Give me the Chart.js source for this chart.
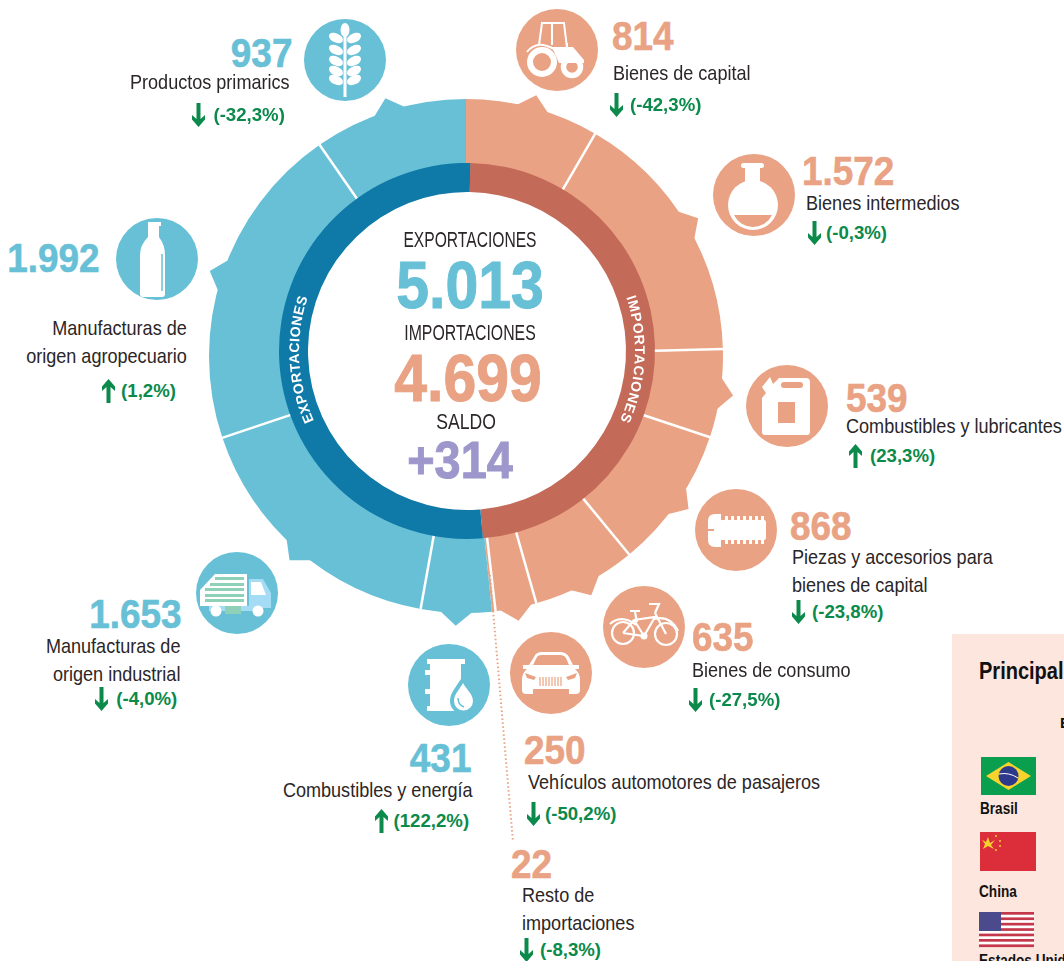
<!DOCTYPE html>
<html lang="es">
<head>
<meta charset="utf-8">
<title>Intercambio comercial</title>
<script src="https://cdn.jsdelivr.net/npm/chart.js@4"></script>
<style>
html, body { margin: 0; padding: 0; width: 1064px; height: 961px; overflow: hidden; background: #fff; }
body { position: relative; font-family: "Liberation Sans", sans-serif; color: #2b2627; }
canvas { position: absolute; }
.t { position: absolute; white-space: pre; line-height: 1; transform-origin: left center; }
.num { font-weight: 700; font-size: 41px; transform: scaleX(.9); -webkit-text-stroke: .6px currentColor; }
.eti { font-size: 21px; line-height: 28px; transform: scaleX(.86); }
.pct { font-weight: 700; font-size: 19px; color: #0b8a4b; transform: scaleX(.98); }
.der { text-align: right; transform-origin: right center; }
.centro { width: 400px; text-align: center; transform-origin: center center; }
svg { position: absolute; overflow: visible; }
#panel { position: absolute; left: 952px; top: 634px; width: 112px; height: 327px; background: #fce6dd; overflow: hidden; }
.pais { font-weight: 700; font-size: 16px; color: #111; transform: scaleX(.85); }
</style>
</head>
<body>
<canvas id="anilloExterior" width="540" height="540" style="left:196px;top:86px"></canvas>
<canvas id="anilloInterior" width="400" height="400" style="left:267px;top:151px"></canvas>
<div id="panel"></div>
<script>
// datos, en sentido horario desde arriba
const categorias = [
    "Bienes de capital", "Bienes intermedios", "Combustibles y lubricantes",
    "Piezas y accesorios para\nbienes de capital", "Bienes de consumo",
    "Vehículos automotores de pasajeros", "Resto de\nimportaciones",
    "Combustibles y energía", "Manufacturas de\norigen industrial",
    "Manufacturas de\norigen agropecuario", "Productos primarics"
];
const valores = [814, 1572, 539, 868, 635, 250, 22, 431, 1653, 1992, 937];
const variaciones = [-42.3, -0.3, 23.3, -23.8, -27.5, -50.2, -8.3, 122.2, -4.0, 1.2, -32.3];
const totales = ["Importaciones", "Exportaciones"];
const valoresTotales = [4699, 5013];
const saldo = 314;
const paises = ["Brasil", "China", "Estados Unidos"];

const cantidadImportaciones = 7;
const colorImp = "#e9a283", colorExp = "#67c0d6";
const colorImpOsc = "#c46a58", colorExpOsc = "#0f79a8";

// donde va cada texto: [numero x, y, etiqueta x, y, flecha x, y, porcentaje x]
// las de exportaciones van alineadas a la derecha
const lugares = [
    [612, 36, 613, 73, 610, 105, 630],
    [802, 171, 806, 203, 808, 233, 826],
    [846, 398, 846, 426, 849, 456, 870],
    [790, 526, 792, 557, 792, 612, 812],
    [692, 637, 692, 670, 689, 700, 709],
    [524, 750, 528, 782, 527, 814, 545],
    [511, 864, 522, 895, 520, 950, 540],
    [471, 758, 473, 790, 375, 821, 469],
    [182, 614, 180, 646, 95, 699, 177],
    [100, 258, 187, 328, 102, 391, 176],
    [292, 53, 290, 82, 192, 115, 285]
];
const centrosIconos = [
    [557, 50], [754, 195], [787, 406], [736, 530], [644, 627], [551, 673], null,
    [449, 685], [237, 593], [157, 259], [345, 60]
];

function formato(n) {
    return String(n).replace(/\B(?=(\d{3})+$)/g, ".");
}

function agregarTexto(clase, texto, x, y, derecha, color) {
    const el = document.createElement("div");
    el.className = "t " + clase;
    el.textContent = texto;
    if (color) el.style.color = color;
    document.body.appendChild(el);
    if (derecha) {
        el.style.right = (1064 - x) + "px";
        el.classList.add("der");
    } else {
        el.style.left = x + "px";
    }
    el.style.top = y + "px";
    return el;
}

function crearSvg(html, x, y) {
    const ns = "http://www.w3.org/2000/svg";
    const svg = document.createElementNS(ns, "svg");
    svg.setAttribute("width", 1);
    svg.setAttribute("height", 1);
    svg.style.left = x + "px";
    svg.style.top = y + "px";
    svg.innerHTML = html;
    document.body.appendChild(svg);
    return svg;
}

function dibujarFlecha(x, y, sube) {
    const giro = sube ? ' transform="rotate(180 6.5 0)"' : "";
    crearSvg('<path' + giro + ' fill="#0b8a4b" d="M4.5 -12 H8.5 V4 L13 0 V4.5 L6.5 12 L0 4.5 V0 L4.5 4 Z"/>', x, y);
}

// iconos en blanco, con origen en el centro del circulo
const B = "#fff";
function glifoIcono(i, c) {
    switch (i) {
    case 0: // tractor
        return `<path fill="none" stroke="${B}" stroke-width="2" d="M-18 -5 L-15 -27 H7 L10 -2 M-5 -27 V-5"/>
        <path fill="${B}" d="M-5 -3 H9 V-7 H11 V-3 H16 L27 10 V13 H2 Z"/>
        <path fill="none" stroke="${B}" stroke-width="2" d="M-30 2 Q-22 -8 -10 -4 Q0 -1 3 6"/>
        <circle cx="-15" cy="12" r="12" fill="none" stroke="${B}" stroke-width="6"/>
        <circle cx="15" cy="17" r="8.5" fill="none" stroke="${B}" stroke-width="5.5"/>`;
    case 1: // matraz
        return `<rect x="-13" y="-32" width="23" height="5" rx="2.5" fill="${B}"/>
        <rect x="-9" y="-28" width="15" height="20" fill="${B}"/>
        <circle cx="-1" cy="10" r="25" fill="${B}"/>
        <path fill="${c}" d="M-20 20 A21 21 0 0 0 18 20 Z"/>`;
    case 2: // bidon
        return `<path fill="${B}" d="M-25 26 Q-25 29 -22 29 L20 29 Q23 29 23 26 L23 -24 Q23 -28 19 -28 L-8 -28 L-14 -22 L-17 -29 L-25 -19 L-21 -13 L-25 -8 Z"/>
        <rect x="-9" y="-4" width="17" height="21" fill="${c}"/>
        <rect x="-6" y="-24" width="22" height="6" rx="3" fill="${c}"/>`;
    case 3: { // tornillo
        let dientes = "";
        for (let d = 0; d < 7; d++) {
            dientes += `<rect x="${-11 + d * 6}" y="-14" width="3" height="28" fill="${B}"/>`;
        }
        return `<path fill="${B}" d="M-15 -16 H-21 Q-28 -16 -28 -9 V-1 H-22 V1 H-28 V10 Q-28 17 -21 17 H-15 Z"/>
        <rect x="-16" y="-10" width="46" height="20" rx="2" fill="${B}"/>${dientes}`;
    }
    case 4: // bicicleta
        return `<g fill="none" stroke="${B}" stroke-width="2.2">
        <circle cx="-21" cy="6" r="11"/><circle cx="22" cy="7" r="11"/>
        <path d="M-21 6 L-10 -7 L11 -10 L0 9 L-21 6 M-10 -7 L0 9 M11 -14 L22 7 M5 -23 H15 L11 -14 M-14 -16 H-4 M-9 -15 L-7 -5"/>
        <path d="M-34 -3 Q-22 -13 -8 -2 M10 -8 Q26 -12 34 4"/></g>
        <circle cx="0" cy="9" r="3.5" fill="${B}"/>`;
    case 5: // auto
        return `<path fill="${B}" d="M-17 -16 Q-15 -21 -9 -21 H9 Q15 -21 18 -16 L22 -8 H28 V-4 H24 Q29 0 29 7 V17 Q29 21 25 21 H18 V16 H-18 V21 H-25 Q-29 21 -29 17 V7 Q-29 0 -24 -4 H-28 V-8 H-22 Z"/>
        <path fill="${c}" d="M-14 -16 Q-13 -18 -9 -18 H9 Q13 -18 15 -15 L18 -8 H-18 Z"/>
        <path fill="${c}" d="M-26 0 L-15 4 L-17 7 L-24 5 Z M26 0 L15 4 L17 7 L24 5 Z"/>
        <g stroke="${c}" stroke-width="1.2">
        <path d="M-11 4 V13 M-8 4 V13 M-5 4 V13 M-2 4 V13 M1 4 V13 M4 4 V13 M7 4 V13 M10 4 V13"/></g>`;
    case 7: // barril y gota
        return `<path fill="${B}" d="M-22 -26 H16 V-21 H12 V21 H16 V26 H-22 V21 H-19 V9 H-24 V4 H-19 V-10 H-24 V-15 H-19 V-21 H-22 Z"/>
        <path fill="${c}" d="M13 -8 C9 0 1 7 1 16 A13.500 13.500 0 0 0 28 16 C28 7 18 0 13 -8 Z"/>
        <path fill="${B}" d="M14 -2 C11 4 5 9 5 16 A9.500 9.500 0 0 0 24 16 C24 9 17 4 14 -2 Z"/>
        <path fill="none" stroke="${c}" stroke-width="1.5" d="M9 13 Q9 20 15 22"/>`;
    case 8: // camion
        return `<path fill="${B}" d="M-37 -3 L-22 -19 H10 V13 H-37 Z"/>
        <g fill="#8fd0b8"><rect x="-22" y="-16" width="29" height="3"/><rect x="-27" y="-10" width="34" height="3"/>
        <rect x="-32" y="-5" width="39" height="3"/><rect x="-32" y="1" width="39" height="3"/><rect x="-32" y="6" width="39" height="3"/></g>
        <path fill="#a4dcf5" d="M12 -14 H26 L34 0 V15 H12 Z"/><path fill="${B}" d="M14 -11 H24 L29 2 H14 Z"/>
        <rect x="-28" y="13" width="54" height="5" fill="#a4dcf5"/><rect x="-12" y="13" width="16" height="8" fill="#8fd0b8"/>
        <circle cx="-21" cy="18" r="5.500" fill="${B}"/><circle cx="21" cy="18" r="5.500" fill="${B}"/>`;
    case 9: // botella
        return `<path fill="${B}" d="M-9 -37 H4 V-33 H2 V-22 Q8 -14 8 -4 V35 Q8 38 5 38 H-14 Q-17 38 -17 35 V-4 Q-17 -14 -9 -22 V-33 H-9 Z"/>
        <path fill="none" stroke="${c}" stroke-width="1.5" d="M5 -5 V32"/>`;
    case 10: { // espiga
        const filas = [-22, -10, 1, 11, 20];
        let hojas = `<rect x="-1.500" y="-24" width="3" height="61" fill="${B}"/><ellipse cx="0" cy="-30" rx="4.500" ry="7" fill="${B}"/>`;
        filas.forEach(f => {
            hojas += `<ellipse cx="-9" cy="${f}" rx="7.500" ry="4.500" transform="rotate(25 -9 ${f})" fill="${B}"/>`;
            hojas += `<ellipse cx="9" cy="${f}" rx="7.500" ry="4.500" transform="rotate(-25 9 ${f})" fill="${B}"/>`;
        });
        return hojas;
    }
    }
    return "";
}

// dientes y separadores del anillo, sacados de los arcos del propio grafico
const pluginDientes = {
    id: "dientes",
    beforeDatasetsDraw(chart) {
        const ctx = chart.ctx;
        chart.getDatasetMeta(0).data.forEach((arco, i) => {
            if (valores[i] < 100) return;
            const medio = (arco.startAngle + arco.endAngle) / 2;
            const ancho = 4 * Math.PI / 180;
            const r = arco.outerRadius;
            ctx.beginPath();
            ctx.moveTo(arco.x + (r - 2) * Math.cos(medio - ancho), arco.y + (r - 2) * Math.sin(medio - ancho));
            ctx.lineTo(arco.x + (r + 13) * Math.cos(medio), arco.y + (r + 13) * Math.sin(medio));
            ctx.lineTo(arco.x + (r - 2) * Math.cos(medio + ancho), arco.y + (r - 2) * Math.sin(medio + ancho));
            ctx.closePath();
            ctx.fillStyle = i < cantidadImportaciones ? colorImp : colorExp;
            ctx.fill();
        });
    },
    afterDatasetsDraw(chart) {
        const ctx = chart.ctx;
        const arcos = chart.getDatasetMeta(0).data;
        arcos.forEach((arco, i) => {
            if (i === cantidadImportaciones - 1 || i === arcos.length - 1) return;
            const a = arco.endAngle;
            ctx.beginPath();
            ctx.moveTo(arco.x + arco.innerRadius * Math.cos(a), arco.y + arco.innerRadius * Math.sin(a));
            ctx.lineTo(arco.x + (arco.outerRadius + 1) * Math.cos(a), arco.y + (arco.outerRadius + 1) * Math.sin(a));
            ctx.strokeStyle = "#fff";
            ctx.lineWidth = 2.5;
            ctx.stroke();
        });
    }
};

function crearAnillos() {
    new Chart(document.getElementById("anilloExterior"), {
        type: "doughnut",
        data: {
            labels: categorias,
            datasets: [{
                data: valores,
                backgroundColor: valores.map((_, i) => i < cantidadImportaciones ? colorImp : colorExp),
                borderWidth: 0
            }]
        },
        options: {
            responsive: false,
            animation: false,
            cutout: 170,
            layout: { padding: 13 },
            plugins: { legend: { display: false }, tooltip: { enabled: false } }
        },
        plugins: [pluginDientes]
    });

    new Chart(document.getElementById("anilloInterior"), {
        type: "doughnut",
        data: {
            labels: totales,
            datasets: [{
                data: valoresTotales,
                backgroundColor: [colorImpOsc, colorExpOsc],
                borderWidth: 0
            }]
        },
        options: {
            responsive: false,
            animation: false,
            cutout: 159,
            rotation: 1,
            layout: { padding: 12 },
            plugins: { legend: { display: false }, tooltip: { enabled: false } }
        }
    });
}

function escribirEtiquetas() {
    categorias.forEach((cat, i) => {
        const esExp = i >= cantidadImportaciones;
        const color = esExp ? colorExp : colorImp;
        const l = lugares[i];

        agregarTexto("num", formato(valores[i]), l[0], l[1] - 20, esExp, color);
        agregarTexto("eti", cat, l[2], l[3] - 14, esExp);

        const v = variaciones[i];
        dibujarFlecha(l[4], l[5], v > 0);
        const pct = "(" + v.toFixed(1).replace(".", ",") + "%)";
        agregarTexto("pct", pct, l[6], l[5] - 10, esExp);

        const centro = centrosIconos[i];
        if (centro) {
            crearSvg(`<circle r="41" fill="${color}"/>` + glifoIcono(i, color), centro[0], centro[1]);
        }
    });

    // linea punteada hacia "Resto de importaciones"
    crearSvg(`<line x1="490" y1="575" x2="513" y2="842" stroke="${colorImp}" stroke-width="2" stroke-dasharray="1.500 2.500"/>`, 0, 0);

    // textos del centro: texto, x, y, tamaño, peso, color, ancho
    const centro = [
        ["EXPORTACIONES", 270, 229, 22, 400, null, .71],
        [formato(valoresTotales[1]), 270, 251, 67, 700, colorExp, .88],
        ["IMPORTACIONES", 270, 322, 22, 400, null, .72],
        [formato(valoresTotales[0]), 268, 344, 67, 700, colorImp, .88],
        ["SALDO", 266, 411, 22, 400, null, .8],
        ["+" + saldo, 260, 434, 52, 700, "#9d97cb", .9]
    ];
    centro.forEach(c => {
        const el = agregarTexto("centro", c[0], c[1], c[2], false, c[5]);
        el.style.fontSize = c[3] + "px";
        el.style.fontWeight = c[4];
        el.style.transform = "scaleX(" + c[6] + ")";
        if (c[4] === 700) el.style.webkitTextStroke = "1px " + c[5];
    });

    // rotulos curvos sobre el anillo interior
    crearSvg(`<defs>
        <path id="curvaExp" d="M${467 + 168 * Math.sin(4.16)} ${351 - 168 * Math.cos(4.16)} A168 168 0 0 1 ${467 + 168 * Math.sin(5.16)} ${351 - 168 * Math.cos(5.16)}"/>
        <path id="curvaImp" d="M${467 + 168 * Math.sin(1.12)} ${351 - 168 * Math.cos(1.12)} A168 168 0 0 1 ${467 + 168 * Math.sin(2.12)} ${351 - 168 * Math.cos(2.12)}"/>
        </defs>
        <text font-family="Liberation Sans" font-weight="700" font-size="14" fill="#fff" text-anchor="middle"><textPath href="#curvaExp" startOffset="50%" textLength="126">EXPORTACIONES</textPath></text>
        <text font-family="Liberation Sans" font-weight="700" font-size="14" fill="#fff" text-anchor="middle"><textPath href="#curvaImp" startOffset="50%" textLength="126">IMPORTACIONES</textPath></text>`, 0, 0);
}

function escribirPanel() {
    const panel = document.getElementById("panel");
    panel.innerHTML = `<div class="t" style="left:27px;top:26px;font-weight:700;font-size:23px;color:#111;transform:scaleX(.87)">Principales socios comerciales</div>
    <div class="t" style="left:108px;top:81px;font-weight:700;font-size:15px;color:#111">Exportaciones</div>
    <svg style="left:29px;top:123px" width="55" height="38"><rect width="55" height="38" fill="#0a9f4f"/><path d="M27.500 5 L50 19 L27.500 33 L5 19 Z" fill="#f6d32d"/><circle cx="27.500" cy="19" r="10" fill="#2d3a8c"/><path d="M18 17 Q28 15 37 21" stroke="#fff" fill="none"/></svg>
    <svg style="left:28px;top:198px" width="56" height="39"><rect width="56" height="39" fill="#dc2d3a"/><path d="M8 5 L10 11 L15 8 L11 13 L14 17 L8 14 L3 17 L5 12 L2 8 L6 10 Z" fill="#f6d32d"/><g fill="#f6d32d"><circle cx="16" cy="4" r="1"/><circle cx="20" cy="9" r="1"/><circle cx="20" cy="14" r="1"/><circle cx="16" cy="18" r="1"/></g></svg>
    <svg style="left:27px;top:278px" width="55" height="35" id="eeuu"></svg>`;
    let franjas = '<rect width="55" height="35" fill="#fff"/>';
    for (let f = 0; f < 7; f++) {
        franjas += `<rect y="${f * 5.4}" width="55" height="2.700" fill="#c4384b"/>`;
    }
    franjas += '<rect width="22" height="19" fill="#4a4a8c"/>';
    document.getElementById("eeuu").innerHTML = franjas;
    paises.forEach((p, i) => {
        const el = document.createElement("div");
        el.className = "t pais";
        el.textContent = p;
        el.style.left = [28, 27, 27][i] + "px";
        el.style.top = [167, 250, 319][i] + "px";
        panel.appendChild(el);
    });
}

document.addEventListener("DOMContentLoaded", function() {
    crearAnillos();
    escribirEtiquetas();
    escribirPanel();
});
</script>
</body>
</html>
